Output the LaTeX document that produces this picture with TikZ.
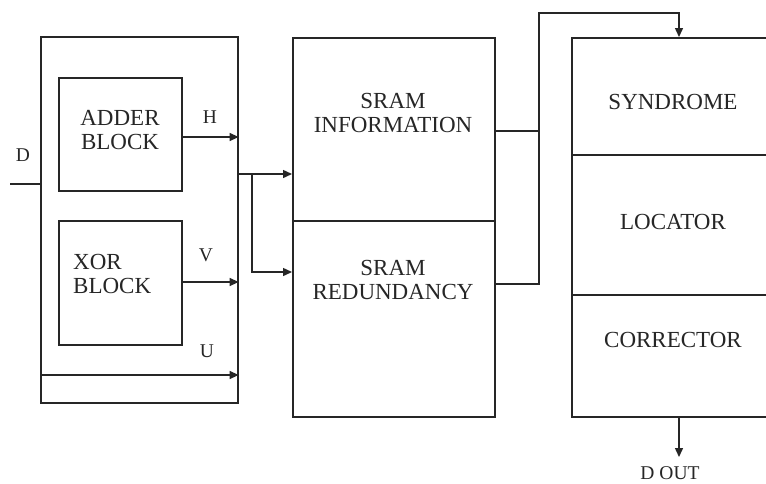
\documentclass[tikz,border=0pt]{standalone}
\usepackage{fontspec}
\setmainfont{Liberation Serif}
\usetikzlibrary{arrows.meta,calc}
\begin{document}
\begin{tikzpicture}[x=1pt,y=-1pt,
  box/.style={draw=black!85, line width=1.6pt, rectangle, inner sep=0pt, anchor=north west},
  wire/.style={draw=black!85, line width=1.4pt},
  arr/.style={wire, -{Triangle[length=9pt,width=8pt]}},
  bigtxt/.style={font=\fontsize{23}{24}\selectfont, inner sep=0pt, align=center, text=black!85},
  lbl/.style={font=\fontsize{19.5}{20}\selectfont, inner sep=0pt, text=black!85}]
\useasboundingbox (0,0) rectangle (766,483);
\fill[white] (0,0) rectangle (766,483);

% boxes
\node[box, minimum width=197pt, minimum height=366pt] (outer) at (40,36) {};
\node[box, minimum width=123pt, minimum height=113pt] (adder) at (58,77) {};
\node[box, minimum width=123pt, minimum height=124pt] (xor) at (58,220) {};
\node[box, minimum width=202pt, minimum height=183pt] (sraminfo) at (292,37) {};
\node[box, minimum width=202pt, minimum height=196pt] (sramred) at (292,220) {};
\node[box, minimum width=210pt, minimum height=117pt] (syn) at (571,37) {};
\node[box, minimum width=210pt, minimum height=140pt] (loc) at (571,154) {};
\node[box, minimum width=210pt, minimum height=122pt] (cor) at (571,294) {};

% texts
\node[bigtxt] (addert) at (120,130) {ADDER\\BLOCK};
\node[bigtxt, align=left, anchor=west] (xort) at (73,273.5) {XOR\\BLOCK};
\node[bigtxt] (sramit) at (393,113) {SRAM\\INFORMATION};
\node[bigtxt] (sramrt) at (393,279.5) {SRAM\\REDUNDANCY};
\node[bigtxt] (synt) at (673,102) {SYNDROME};
\node[bigtxt] (loct) at (673,222) {LOCATOR};
\node[bigtxt] (cort) at (673,340) {CORRECTOR};

\node[lbl] (dl) at (23,155) {D};
\node[lbl] (hl) at (210,117) {H};
\node[lbl] (vl) at (206,255) {V};
\node[lbl] (ul) at (207,351) {U};
\node[lbl] (doutl) at (670,473) {D OUT};

% coordinates
\coordinate (din) at (10,184);
\coordinate (hy) at (0,137);
\coordinate (vy) at (0,282);
\coordinate (uy) at (0,375);
\coordinate (jy) at (0,174);
\coordinate (jx) at (252,0);
\coordinate (ry) at (0,272);
\coordinate (oiy) at (0,131);
\coordinate (ory) at (0,284);
\coordinate (busx) at (539,0);
\coordinate (topy) at (0,13);
\coordinate (arx) at (679,0);
\coordinate (dout) at (679,457);

% connectors
\draw[wire] (din) -- (din -| outer.west);
\draw[arr] (adder.east |- hy) -- (hy -| outer.east);
\draw[arr] (xor.east |- vy) -- (vy -| outer.east);
\draw[arr] (outer.west |- uy) -- (uy -| outer.east);
\draw[arr] (outer.east |- jy) -- (jy -| sraminfo.west);
\draw[arr] (jx |- jy) |- (ry -| sramred.west);
\draw[wire] (sraminfo.east |- oiy) -- (busx |- oiy);
\draw[arr] (sramred.east |- ory) -- (busx |- ory) -- (busx |- topy) -- (arx |- topy) -- (arx |- syn.north);
\draw[arr] (arx |- cor.south) -- (dout);
\end{tikzpicture}
\end{document}
